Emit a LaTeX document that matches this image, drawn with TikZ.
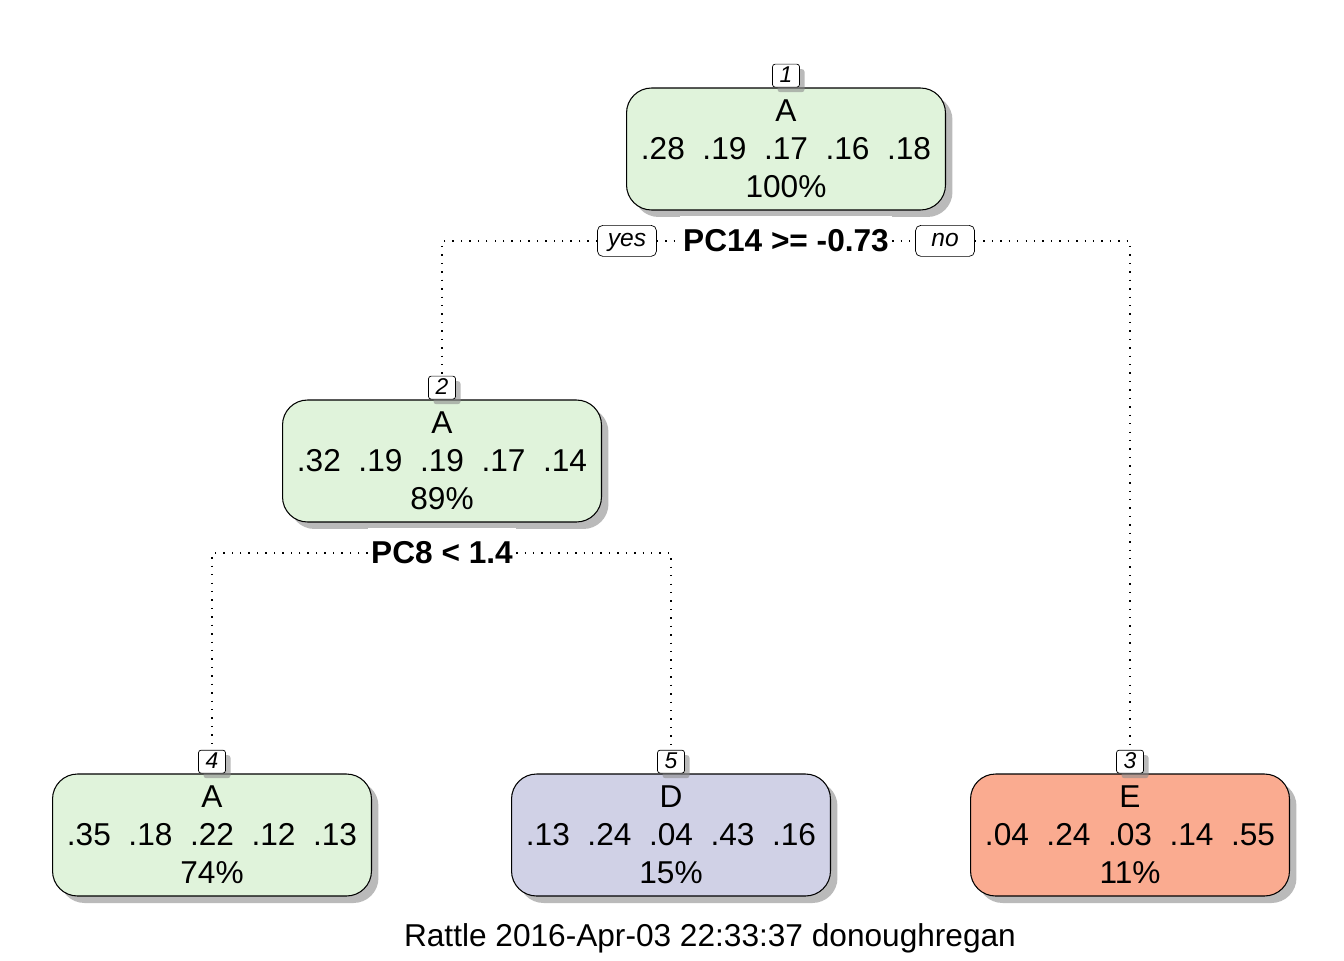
\documentclass[tikz,border=0pt]{standalone}
\usepackage{fontspec}
\setmainfont{Liberation Sans}
\usetikzlibrary{positioning,shadows}

\definecolor{leafgreen}{HTML}{E0F3DB}
\definecolor{leafpurple}{HTML}{D0D1E6}
\definecolor{leafred}{HTML}{FAAB90}

\begin{document}
\begin{tikzpicture}[x=0.02cm, y=-0.02cm]
    \tikzstyle{leaf} = [rectangle, draw, semithick, align=center, rounded corners=0.5cm, minimum width=6.38cm, minimum height=2.44cm, inner sep=0pt, font=\fontsize{18}{21.6}\selectfont, drop shadow={shadow xshift=0.14cm, shadow yshift=-0.14cm, fill=black!45, opacity=0.6}]
    \tikzstyle{numbox} = [rectangle, draw, fill=white, rounded corners=1.5pt, minimum width=0.54cm, minimum height=0.46cm, inner sep=0pt, text height=1.6ex, text depth=0.2ex, font=\fontsize{13}{15}\selectfont\itshape, drop shadow={shadow xshift=0.1cm, shadow yshift=-0.1cm, fill=black!45, opacity=0.6}]
    \tikzstyle{yesno} = [rectangle, draw, fill=white, rounded corners=3pt, minimum width=1.18cm, minimum height=0.62cm, inner sep=0pt, text height=1.6ex, text depth=0.3ex, font=\fontsize{14}{17}\selectfont\itshape]
    \tikzstyle{split} = [rectangle, fill=white, inner xsep=0.06cm, inner ysep=0pt, minimum height=1cm, font=\fontsize{18}{21.6}\selectfont\bfseries]
    \tikzstyle{branch} = [line width=0.8pt, dash pattern=on 0.8pt off 4pt]

    \useasboundingbox (0,0) rectangle (1344,960);

    % tree nodes
    \node (n1) at (786,149) [leaf, fill=leafgreen] {A\\.28~~.19~~.17~~.16~~.18\\100\%};
    \node (n2) at (442,461) [leaf, fill=leafgreen] {A\\.32~~.19~~.19~~.17~~.14\\89\%};
    \node (n4) at (212,835) [leaf, fill=leafgreen] {A\\.35~~.18~~.22~~.12~~.13\\74\%};
    \node (n5) at (671,835) [leaf, fill=leafpurple] {D\\.13~~.24~~.04~~.43~~.16\\15\%};
    \node (n3) at (1130,835) [leaf, fill=leafred] {E\\.04~~.24~~.03~~.14~~.55\\11\%};

    % node numbers
    \node (num1) [numbox, above=0pt of n1] {1};
    \node (num2) [numbox, above=0pt of n2] {2};
    \node (num4) [numbox, above=0pt of n4] {4};
    \node (num5) [numbox, above=0pt of n5] {5};
    \node (num3) [numbox, above=0pt of n3] {3};

    % splits
    \node (s1) [split, below=0.1cm of n1] {PC14 >= -0.73};
    \node (s2) [split, below=0.1cm of n2] {PC8 < 1.4};
    \node (yes) [yesno, left=0.46cm of s1] {yes};
    \node (no) [yesno, right=0.46cm of s1] {no};

    \draw [branch] (yes.east) -- (s1.west);
    \draw [branch] (yes.west) -| (num2.north);
    \draw [branch] (s1.east) -- (no.west);
    \draw [branch] (no.east) -| (num3.north);
    \draw [branch] (s2.west) -| (num4.north);
    \draw [branch] (s2.east) -| (num5.north);

    \node (stamp) at (710,938) [font=\fontsize{18}{21.6}\selectfont] {Rattle 2016-Apr-03 22:33:37 donoughregan};
\end{tikzpicture}
\end{document}
